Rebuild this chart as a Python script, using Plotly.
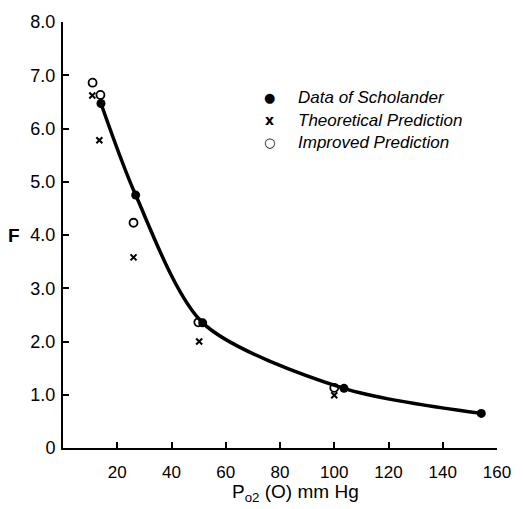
import plotly.graph_objects as go

# Data
sch_x = [14.0, 26.8, 51.5, 103.6, 154.2]
sch_y = [6.47, 4.75, 2.35, 1.12, 0.65]

theo_x = [10.8, 13.4, 26.0, 50.2, 100.0]
theo_y = [6.62, 5.78, 3.58, 2.00, 0.99]

imp_x = [10.9, 13.8, 26.0, 49.9, 100.0]
imp_y = [6.86, 6.63, 4.23, 2.36, 1.13]

x_ticks = [20, 40, 60, 80, 100, 120, 140, 160]
y_ticks = [0, 1, 2, 3, 4, 5, 6, 7, 8]
y_tick_text = ["0", "1.0", "2.0", "3.0", "4.0", "5.0", "6.0", "7.0", "8.0"]

legend_labels = ["Data of Scholander", "Theoretical Prediction", "Improved Prediction"]
legend_symbols = ["\u25CF", "<b>x</b>", "\u25CB"]

FONT = "Liberation Sans"

fig = go.Figure()
fig.add_trace(go.Scatter(x=sch_x, y=sch_y, mode="lines", line=dict(color="black", width=3.5, shape="spline", smoothing=0.8),
                         showlegend=False, hoverinfo="skip"))
fig.add_trace(go.Scatter(x=sch_x, y=sch_y, mode="markers", name=legend_labels[0], showlegend=False,
                         marker=dict(symbol="circle", size=9, color="black")))
fig.add_trace(go.Scatter(x=theo_x, y=theo_y, mode="markers", name=legend_labels[1], showlegend=False,
                         marker=dict(symbol="x-thin", size=6, color="black", line=dict(color="black", width=2))))
fig.add_trace(go.Scatter(x=imp_x, y=imp_y, mode="markers", name=legend_labels[2], showlegend=False,
                         marker=dict(symbol="circle-open", size=8, color="black", line=dict(color="black", width=1.8))))

fig.update_layout(
    width=523, height=509,
    margin=dict(l=63, r=17, t=21, b=61),
    paper_bgcolor="white", plot_bgcolor="white",
    font=dict(family=FONT, color="black", size=16),
    xaxis=dict(range=[0, 160], tickvals=x_ticks, ticks="inside", ticklen=6, tickwidth=1.5, tickcolor="black",
               showline=True, linecolor="black", linewidth=2, showgrid=False, zeroline=False,
               ticklabelstandoff=8, tickfont=dict(size=17, family=FONT)),
    yaxis=dict(range=[0, 8], tickvals=y_ticks, ticktext=y_tick_text, ticks="inside", ticklen=6, tickwidth=1.5,
               tickcolor="black", showline=True, linecolor="black", linewidth=2, showgrid=False, zeroline=False,
               ticklabelstandoff=2, tickfont=dict(size=18, family=FONT)),
    showlegend=False,
)

# Legend drawn as text rows (pixel positions converted to paper coords)
PL, PW, PB, PH = 63, 443, 448, 427
row_py = [97, 119.5, 142]
sym_sizes = [13, 14, 13]
for lab, sym, py, ss in zip(legend_labels, legend_symbols, row_py, sym_sizes):
    yp = (PB - py) / PH
    fig.add_annotation(text=sym, xref="paper", yref="paper", x=(274 - PL) / PW, y=yp,
                       xanchor="center", yanchor="middle", showarrow=False, font=dict(size=ss, family="DejaVu Sans"))
    fig.add_annotation(text="<i>" + lab + "</i>", xref="paper", yref="paper", x=(301 - PL) / PW, y=yp,
                       xanchor="left", yanchor="middle", showarrow=False, font=dict(size=17, family=FONT))

fig.add_annotation(text="<b>F</b>", xref="paper", yref="paper", x=-0.112, y=0.5, xanchor="center", yanchor="middle",
                   showarrow=False, font=dict(size=19, family=FONT))
fig.add_annotation(text="P<sub>o2</sub> (O) mm Hg", xref="paper", yref="paper", x=0.535, y=-0.105,
                   xanchor="center", yanchor="middle", showarrow=False, font=dict(size=19, family=FONT))

fig.write_html("out.html", config={"displayModeBar": False},
               post_script="document.body.style.margin='0';document.body.style.overflow='hidden';")
